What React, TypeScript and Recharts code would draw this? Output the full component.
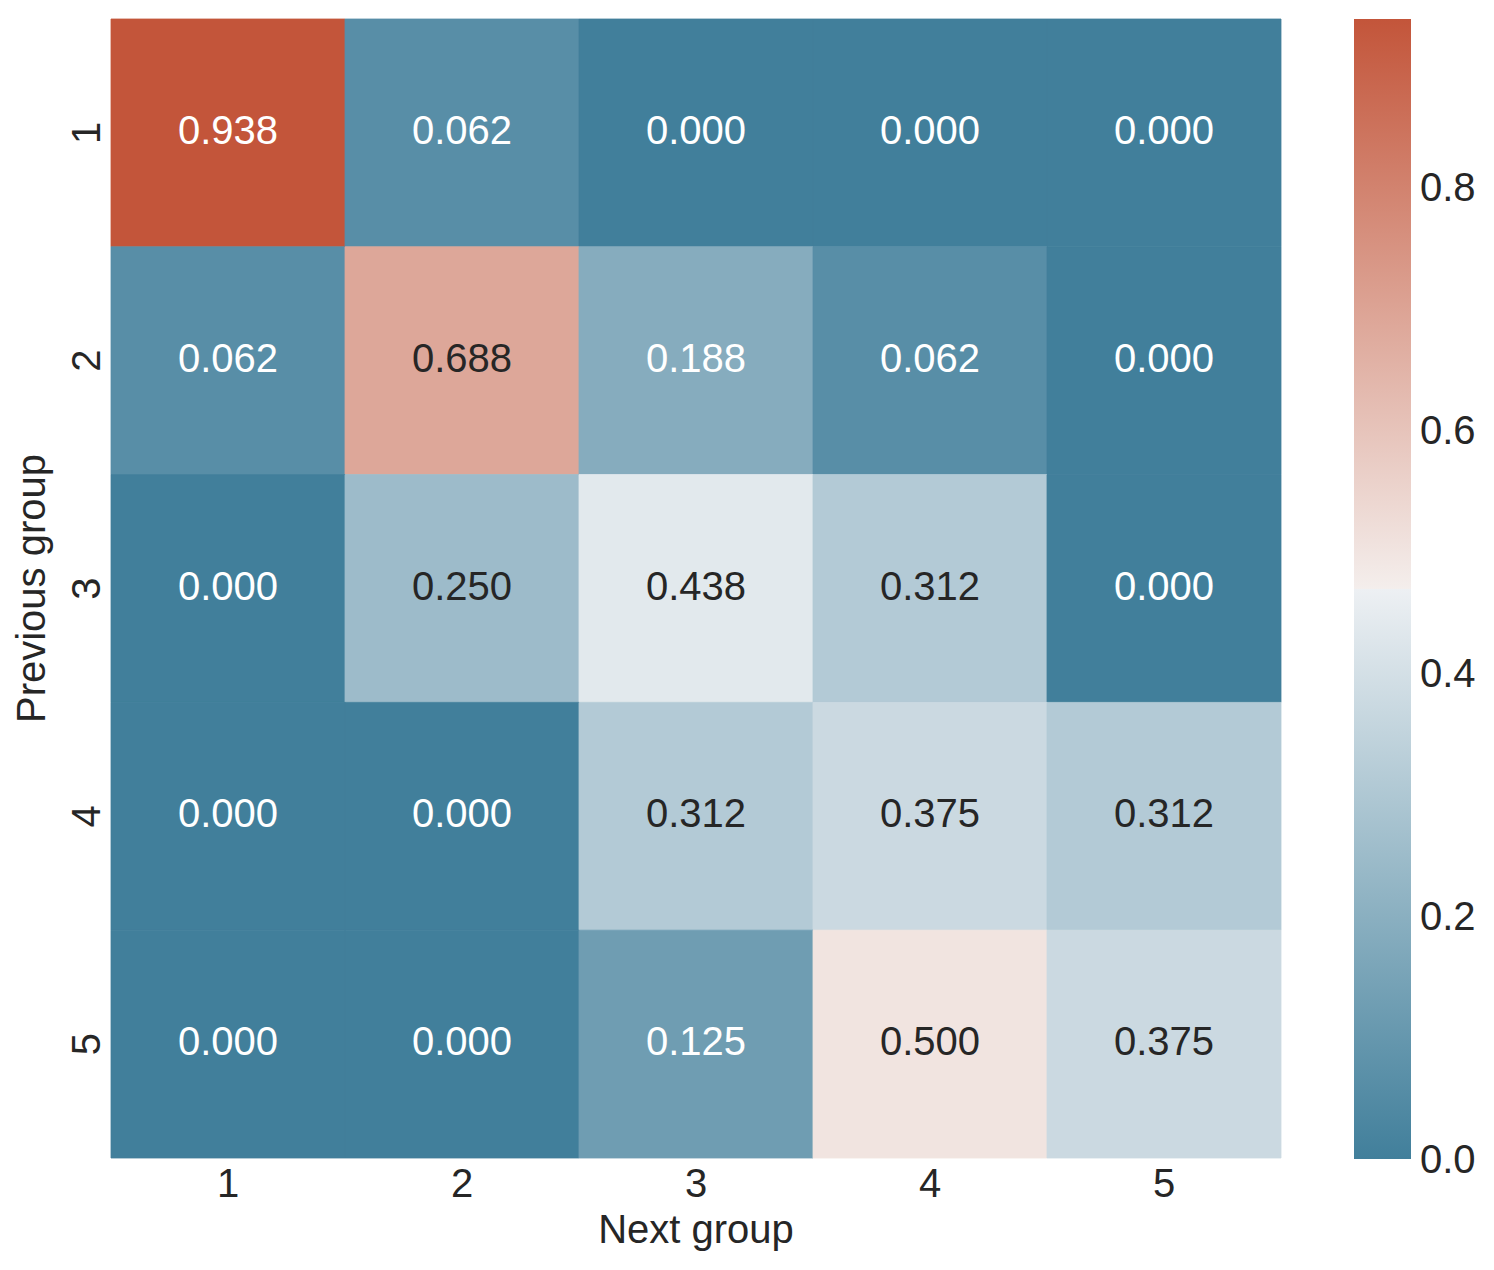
import { Bar, BarChart, Cell, Label, LabelList, XAxis, YAxis } from "recharts";

// transition matrix: rows = previous group, columns = next group
const nextGroups = ["1", "2", "3", "4", "5"];
const prevGroups = ["1", "2", "3", "4", "5"];
const row1 = [0.938, 0.062, 0.0, 0.0, 0.0];
const row2 = [0.062, 0.688, 0.188, 0.062, 0.0];
const row3 = [0.0, 0.25, 0.438, 0.312, 0.0];
const row4 = [0.0, 0.0, 0.312, 0.375, 0.312];
const row5 = [0.0, 0.0, 0.125, 0.5, 0.375];
const rows = [row1, row2, row3, row4, row5];
const cbarTicks = [0, 0.2, 0.4, 0.6, 0.8];

const VMAX = Math.max(...rows.flat());
const FONT = "'Liberation Sans', Arial, Helvetica, sans-serif";
const INK = "#262626";

// diverging palette (blue 220 -> light -> red 20)
const LOW = [65, 127, 155];
const GRAY_NEG = [237, 240, 243];
const MID = [242, 242, 242];
const GRAY_POS = [244, 238, 236];
const HIGH = [195, 85, 58];

const mix = (a: number[], b: number[], f: number) =>
  a.map((v, i) => Math.round(v + (b[i] - v) * f));

function cmapRgb(t: number) {
  if (t < 0.5) return mix(LOW, GRAY_NEG, t / 0.5);
  if (t === 0.5) return MID;
  return mix(GRAY_POS, HIGH, (t - 0.5) / 0.5);
}
const toHex = (c: number[]) => `rgb(${c[0]},${c[1]},${c[2]})`;
const cmap = (t: number) => toHex(cmapRgb(Math.max(0, Math.min(1, t))));

function luminance(c: number[]) {
  const lin = c.map((v) => {
    const s = v / 255;
    return s <= 0.03928 ? s / 12.92 : Math.pow((s + 0.055) / 1.055, 2.4);
  });
  return 0.2126 * lin[0] + 0.7152 * lin[1] + 0.0722 * lin[2];
}

const data = nextGroups.map((g, j) => {
  const d: any = { next: g };
  rows.forEach((r, i) => {
    d[`p${i}`] = 1;
    d[`v${i}`] = r[j];
  });
  return d;
});

const cbarData = [{ name: "cbar", v: VMAX }];

function CellLabel(props: any) {
  const { x, y, width, height, value } = props;
  const cx = Number(x) + Number(width) / 2;
  const cy = Number(y) + Number(height) / 2;
  const color = luminance(cmapRgb(value / VMAX)) > 0.408 ? INK : "#ffffff";
  return (
    <text
      x={cx}
      y={cy + 11}
      textAnchor="middle"
      fill={color}
      fontSize={40}
      fontFamily={FONT}
    >
      {Number(value).toFixed(3)}
    </text>
  );
}

function RotatedTick(props: any) {
  const { x, y, payload } = props;
  return (
    <text
      x={x}
      y={y}
      transform={`rotate(-90 ${x} ${y})`}
      textAnchor="middle"
      fill={INK}
      fontSize={40}
      fontFamily={FONT}
    >
      {prevGroups[Math.floor(payload.value)]}
    </text>
  );
}

export default function App() {
  return (
    <div
      style={{
        position: "absolute",
        left: 0,
        top: 0,
        width: 1494,
        height: 1270,
        background: "#fff",
        fontFamily: FONT,
      }}
    >
      <div style={{ position: "absolute", left: 0, top: 0 }}>
        <BarChart
          width={1300}
          height={1270}
          data={data}
          barCategoryGap={0}
          barGap={0}
          margin={{ top: 19, right: 19, bottom: 0, left: 0 }}
        >
          <XAxis
            dataKey="next"
            height={112}
            axisLine={false}
            tickLine={false}
            tickSize={0}
            tickMargin={11}
            tick={{ fill: INK, fontSize: 40, fontFamily: FONT }}
          >
            <Label
              value="Next group"
              position="insideBottom"
              offset={27}
              fill={INK}
              fontSize={40}
              fontFamily={FONT}
            />
          </XAxis>
          <YAxis
            type="number"
            domain={[0, 5]}
            reversed
            ticks={[0.5, 1.5, 2.5, 3.5, 4.5]}
            width={111}
            axisLine={false}
            tickLine={false}
            tickSize={0}
            tickMargin={11}
            tick={<RotatedTick />}
          >
            <Label
              value="Previous group"
              position="insideLeft"
              angle={-90}
              offset={31}
              fill={INK}
              fontSize={40}
              fontFamily={FONT}
              style={{ textAnchor: "middle" }}
            />
          </YAxis>
          {rows.map((r, i) => (
            <Bar
              key={i}
              dataKey={`p${i}`}
              stackId="grid"
              isAnimationActive={false}
            >
              {r.map((v, j) => (
                <Cell
                  key={j}
                  fill={cmap(v / VMAX)}
                  stroke={cmap(v / VMAX)}
                  strokeWidth={0.8}
                />
              ))}
              <LabelList dataKey={`v${i}`} content={<CellLabel />} />
            </Bar>
          ))}
        </BarChart>
      </div>

      <div style={{ position: "absolute", left: 1354, top: 0 }}>
        <BarChart
          width={140}
          height={1270}
          data={cbarData}
          barCategoryGap={0}
          margin={{ top: 19, right: 0, bottom: 111, left: 0 }}
        >
          <defs>
            <linearGradient id="cbarGrad" x1="0" y1="1" x2="0" y2="0">
              <stop offset="0" stopColor={cmap(0)} />
              <stop offset="0.25" stopColor={cmap(0.25)} />
              <stop offset="0.4995" stopColor={cmap(0.4995)} />
              <stop offset="0.5" stopColor={cmap(0.5)} />
              <stop offset="0.5005" stopColor={cmap(0.5005)} />
              <stop offset="0.75" stopColor={cmap(0.75)} />
              <stop offset="1" stopColor={cmap(1)} />
            </linearGradient>
          </defs>
          <XAxis dataKey="name" hide />
          <YAxis
            orientation="right"
            type="number"
            domain={[0, VMAX]}
            ticks={cbarTicks}
            tickFormatter={(v: number) => v.toFixed(1)}
            width={83}
            axisLine={false}
            tickLine={false}
            tickSize={0}
            tickMargin={9}
            tick={{ fill: INK, fontSize: 40, fontFamily: FONT }}
          />
          <Bar dataKey="v" fill="url(#cbarGrad)" isAnimationActive={false} />
        </BarChart>
      </div>
    </div>
  );
}
